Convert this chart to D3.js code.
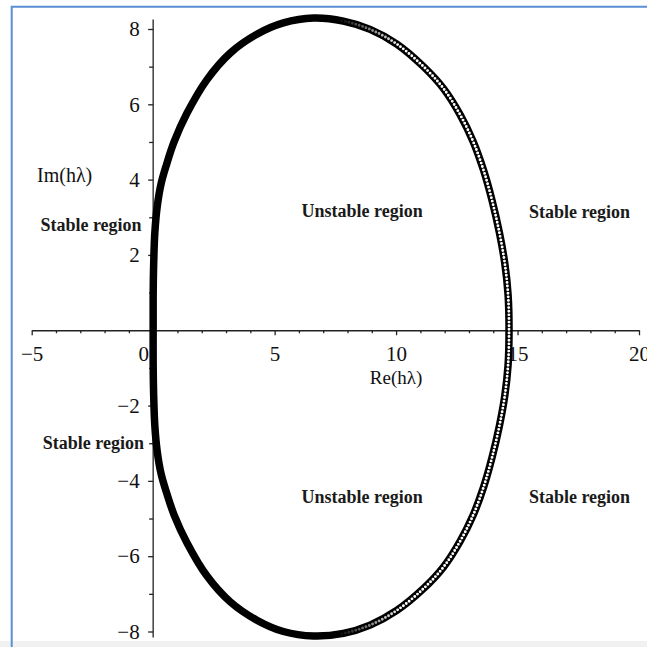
<!DOCTYPE html>
<html>
<head>
<meta charset="utf-8">
<script src="https://cdn.jsdelivr.net/npm/d3@7"></script>
<style>
  html, body { margin: 0; padding: 0; background: #fff; }
  svg { display: block; }
  .tick text { font-family: "Liberation Serif", "DejaVu Serif", serif; font-size: 21px; fill: #111; }
  .axis path, .axis line { stroke: #222; stroke-width: 1.3; }
</style>
</head>
<body>
<svg id="chart" width="647" height="647"></svg>
<script>
// Boundary of the stability region, traced counter-clockwise from the origin
const reVals = [
  0, 0, 0.02, 0.07, 0.17, 0.33, 0.55, 0.86, 1.39, 2.21, 3.17, 4.27, 5.36, 6.6,
  7.83, 8.93, 10.03, 11.13, 11.95, 12.64, 13.18, 13.6, 13.95, 14.25, 14.47, 14.61,
  14.65,
  14.61, 14.47, 14.25, 13.95, 13.6, 13.18, 12.64, 11.95, 11.13, 10.03, 8.93, 7.83,
  6.6, 5.36, 4.27, 3.17, 2.21, 1.39, 0.86, 0.55, 0.33, 0.17, 0.07, 0.02, 0
];
const imVals = [
  0, 0.85, 1.73, 2.6, 3.3, 3.9, 4.4, 5.0, 5.76, 6.65, 7.36, 7.86, 8.16, 8.29,
  8.21, 7.99, 7.6, 7.0, 6.42, 5.72, 5.0, 4.25, 3.45, 2.6, 1.8, 0.95,
  0,
  -0.93, -1.76, -2.55, -3.38, -4.17, -4.9, -5.6, -6.29, -6.86, -7.44, -7.83, -8.05,
  -8.12, -8.0, -7.7, -7.21, -6.52, -5.64, -4.9, -4.31, -3.82, -3.23, -2.55, -1.7, -0.83
];

// Axis ticks
const xMajorTicks = [-5, 0, 5, 10, 15, 20];
const xMinorTicks = [-4, -3, -2, -1, 1, 2, 3, 4, 6, 7, 8, 9, 11, 12, 13, 14, 16, 17, 18, 19];
const yMajorTicks = [-8, -6, -4, -2, 2, 4, 6, 8];
const yMinorTicks = [-7, -5, -3, -1, 1, 3, 5, 7];

// Region annotations (placed in the complex plane)
const regionText = ["Stable region", "Unstable region", "Stable region",
                    "Stable region", "Unstable region", "Stable region"];
const regionRe = [-2.56, 8.6, 17.55, -2.46, 8.6, 17.55];
const regionIm = [2.64, 3.01, 2.98, -3.16, -4.59, -4.59];

const svg = d3.select("#chart");
const W = 647, H = 647;

const x = d3.scaleLinear().domain([-5, 20]).range([31.7, 639]);
const y = d3.scaleLinear().domain([-8, 8]).range([631.5, 29]);

// Light page strip at the bottom and the blue frame
svg.append("rect").attr("x", 0).attr("y", 641).attr("width", W).attr("height", 6).attr("fill", "#f1f1f1");
svg.append("path")
  .attr("d", `M11.7,${H} V6.7 H${W}`)
  .attr("fill", "none").attr("stroke", "#5b8fd3").attr("stroke-width", 2);

// X axis (through Im = 0)
const gx = svg.append("g").attr("class", "axis").attr("transform", `translate(0,${y(0)})`);
gx.call(d3.axisBottom(x).tickValues(xMinorTicks).tickSize(3).tickFormat(""));
gx.select(".domain").remove();
const gxMaj = svg.append("g").attr("class", "axis").attr("transform", `translate(0,${y(0)})`);
gxMaj.call(d3.axisBottom(x).tickValues(xMajorTicks).tickSize(5).tickPadding(11).tickSizeOuter(0));
gxMaj.selectAll(".tick").filter(d => d === 0).select("text").attr("x", -10);

// Y axis (through Re = 0)
const gy = svg.append("g").attr("class", "axis").attr("transform", `translate(${x(0)},0)`);
gy.call(d3.axisLeft(y).tickValues(yMinorTicks).tickSize(4).tickFormat(""));
gy.select(".domain").remove();
const gyMaj = svg.append("g").attr("class", "axis").attr("transform", `translate(${x(0)},0)`);
gyMaj.call(d3.axisLeft(y).tickValues(yMajorTicks).tickSize(5).tickPadding(8.5).tickSizeOuter(0));
gyMaj.select(".domain").attr("d", `M0,${y(8.25)}V${y(-8.16)}`);

// Axis titles
svg.append("text").attr("x", 37).attr("y", 182)
  .attr("font-family", "Liberation Serif, serif").attr("font-size", 20).attr("fill", "#111")
  .text("Im(hλ)");
svg.append("text").attr("x", x(10)).attr("y", 384).attr("text-anchor", "middle")
  .attr("font-family", "Liberation Serif, serif").attr("font-size", 19).attr("fill", "#111")
  .text("Re(hλ)");

// Region boundary
const pts = reVals.map((r, i) => [r, imVals[i]]);
const line = d3.line().x(d => x(d[0])).y(d => y(d[1])).curve(d3.curveCatmullRomClosed.alpha(0.5));
const boundary = line(pts);

svg.append("path").attr("d", boundary)
  .attr("fill", "none").attr("stroke", "#000").attr("stroke-width", 7.5);

// Hollow marker centres, visible where the sampled points thin out
const defs = svg.append("defs");
const grad = defs.append("linearGradient").attr("id", "fadeIn")
  .attr("gradientUnits", "userSpaceOnUse")
  .attr("x1", x(7.6)).attr("x2", x(10.2)).attr("y1", 0).attr("y2", 0);
grad.append("stop").attr("offset", 0).attr("stop-color", "#fff").attr("stop-opacity", 0);
grad.append("stop").attr("offset", 1).attr("stop-color", "#fff").attr("stop-opacity", 1);
const mask = defs.append("mask").attr("id", "rightSide").attr("maskUnits", "userSpaceOnUse");
mask.append("rect").attr("x", 0).attr("y", 0).attr("width", W).attr("height", H).attr("fill", "url(#fadeIn)");

svg.append("path").attr("d", boundary)
  .attr("fill", "none").attr("stroke", "#fff").attr("stroke-width", 2.9)
  .attr("stroke-linecap", "round").attr("stroke-dasharray", "0 3.6")
  .attr("mask", "url(#rightSide)");

// Region annotations
svg.append("g").selectAll("text").data(regionText).join("text")
  .attr("x", (d, i) => x(regionRe[i]))
  .attr("y", (d, i) => y(regionIm[i]))
  .attr("text-anchor", "middle")
  .attr("font-family", "Liberation Serif, serif")
  .attr("font-weight", "bold")
  .attr("font-size", 18)
  .attr("fill", "#1a1a1a")
  .text(d => d);
</script>
</body>
</html>
